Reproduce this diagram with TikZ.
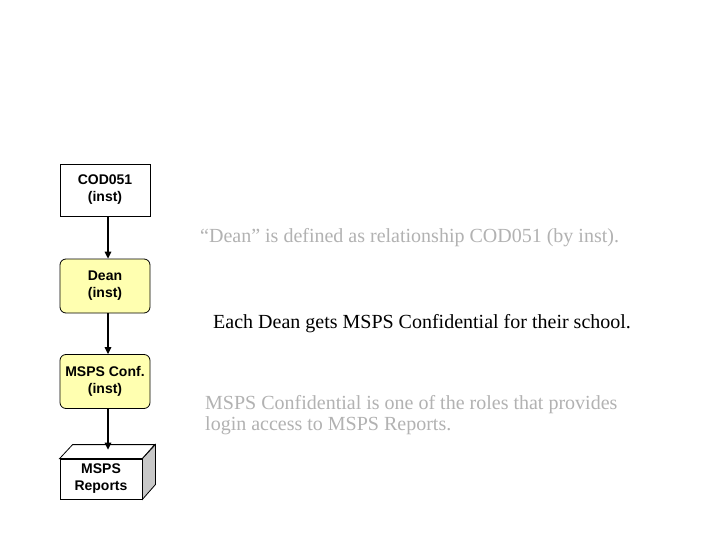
\documentclass[tikz,border=0pt]{standalone}
\usepackage{fontspec}
\setmainfont{Liberation Serif}
\newfontfamily\boxfont{Liberation Sans}
\usetikzlibrary{arrows.meta}
\definecolor{txtgrey}{RGB}{178,178,178}
\definecolor{roleyellow}{RGB}{255,255,176}
\definecolor{sidegrey}{RGB}{200,200,200}
\begin{document}
\begin{tikzpicture}[x=1pt,y=-1pt,
  boxtext/.style={font=\boxfont\bfseries\fontsize{14}{17}\selectfont, align=center, inner sep=0pt},
  plainbox/.style={boxtext, draw=black, line width=0.8pt, fill=white, minimum width=90pt, minimum height=52pt},
  rolebox/.style={boxtext, draw=black, line width=0.8pt, fill=roleyellow, rounded corners=6pt, minimum width=90pt, minimum height=54pt},
  cubefront/.style={boxtext, draw=black, line width=0.8pt, fill=white, minimum width=82pt, minimum height=40pt},
  flow/.style={line width=1.4pt, -{Triangle[length=7pt,width=6.5pt]}},
  note/.style={font=\fontsize{20}{21}\selectfont, anchor=base west, inner sep=0pt}
]
\useasboundingbox (0,0) rectangle (720,540);
\fill[white] (0,0) rectangle (720,540);

\node[plainbox] (cod) at (105,190) {COD051\\(inst)};
\node[rolebox] (dean) at (105,286) {Dean\\(inst)};
\node[rolebox] (conf) at (105,381.5) {MSPS Conf.\\(inst)};

% cube
\node[cubefront] (rep) at (101,479) {MSPS\\Reports};
\draw[line width=0.8pt, fill=white] (rep.north west) -- ++(13,-14) -- ++(82,0) -- (rep.north east) -- cycle;
\draw[line width=0.8pt, fill=sidegrey] (rep.north east) -- ++(13,-14) -- ++(0,40) -- (rep.south east) -- cycle;

\draw[flow] ([xshift=3pt]cod.south) -- ([xshift=3pt]dean.north);
\draw[flow] ([xshift=3pt]dean.south) -- ([xshift=3pt]conf.north);
\draw[flow] ([xshift=3pt]conf.south) -- ([xshift=7pt,yshift=9pt]rep.north);

\node[note, text=txtgrey] (n1) at (200,243) {“Dean” is defined as relationship COD051 (by inst).};
\node[note, text=black] (n2) at (213,328) {Each Dean gets MSPS Confidential for their school.};
\node[note, text=txtgrey] (n3) at (205,409) {MSPS Confidential is one of the roles that provides};
\node[note, text=txtgrey] (n4) at (205,430) {login access to MSPS Reports.};
\end{tikzpicture}
\end{document}
